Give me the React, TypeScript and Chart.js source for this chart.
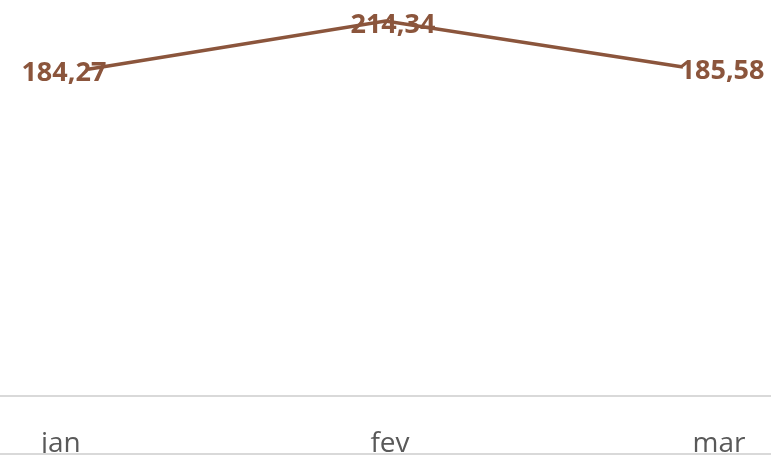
import React, { useEffect, useRef } from "react";
import { Chart, registerables } from "chart.js";

Chart.register(...registerables);

const categories = ["jan", "fev", "mar"];
const values = [184.27, 214.34, 185.58];
const valueLabels = ["184,27", "214,34", "185,58"];

const LINE_COLOR = "#8b553c";

const overlayPlugin = {
  id: "overlay",
  afterDatasetsDraw(chart: any) {
    const ctx = chart.ctx as CanvasRenderingContext2D;
    const x2 = chart.scales.x2;
    const meta = chart.getDatasetMeta(0);
    const area = chart.chartArea;
    const W = chart.width;
    ctx.save();
    // axis line
    ctx.strokeStyle = "#d9d9d9";
    ctx.lineWidth = 2;
    ctx.beginPath();
    ctx.moveTo(0, area.bottom);
    ctx.lineTo(W, area.bottom);
    ctx.stroke();
    // data labels
    ctx.fillStyle = LINE_COLOR;
    ctx.font = "bold 27px 'Open Sans'";
    ctx.textAlign = "center";
    ctx.textBaseline = "middle";
    meta.data.forEach((pt: any, i: number) => {
      const lx = x2.getPixelForValue(i) + 3;
      ctx.fillText(valueLabels[i], lx, pt.y + 4);
    });
    // category labels
    ctx.save();
    ctx.beginPath();
    ctx.rect(0, 0, W, 453);
    ctx.clip();
    ctx.fillStyle = "#595959";
    ctx.font = "28px 'Open Sans'";
    ctx.textBaseline = "alphabetic";
    categories.forEach((c, i) => {
      ctx.fillText(c, x2.getPixelForValue(i), 452);
    });
    ctx.restore();
    // bottom border
    ctx.strokeStyle = "#d9d9d9";
    ctx.lineWidth = 2;
    ctx.beginPath();
    ctx.moveTo(0, 454);
    ctx.lineTo(W, 454);
    ctx.stroke();
    ctx.restore();
  },
};

export default function App() {
  const ref = useRef<HTMLCanvasElement | null>(null);
  useEffect(() => {
    if (!ref.current) return;
    const chart = new Chart(ref.current, {
      type: "line",
      data: {
        datasets: [
          {
            data: values.map((v, i) => ({ x: i, y: v })),
            xAxisID: "x",
            yAxisID: "y",
            borderColor: LINE_COLOR,
            borderWidth: 3.5,
            pointRadius: 0,
            tension: 0,
            fill: false,
            clip: false as any,
          },
        ],
      },
      options: {
        animation: false,
        responsive: false,
        layout: { padding: { left: 0, right: 0, top: 0, bottom: 62 } },
        plugins: { legend: { display: false }, tooltip: { enabled: false } },
        scales: {
          x: { type: "linear", display: false, min: -0.296, max: 2.296 },
          x2: { type: "linear", display: false, min: -0.185, max: 2.158 },
          y: { type: "linear", display: false, min: -20, max: 227.5 },
        },
      } as any,
      plugins: [overlayPlugin],
    });
    return () => chart.destroy();
  }, []);
  return (
    <div style={{ position: "fixed", left: 0, top: 0, width: 771, height: 458, background: "#fff" }}>
      <canvas ref={ref} width={771} height={458} style={{ display: "block" }} />
    </div>
  );
}
